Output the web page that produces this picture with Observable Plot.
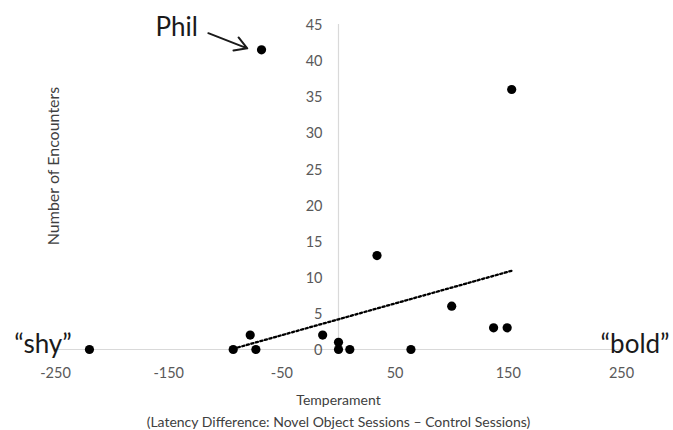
<!DOCTYPE html>
<html>
<head>
<meta charset="utf-8">
<script src="https://cdn.jsdelivr.net/npm/d3@7"></script>
<script src="https://cdn.jsdelivr.net/npm/@observablehq/plot@0.6"></script>
<style>
  html, body { margin: 0; padding: 0; background: #fff; }
</style>
</head>
<body>
<div id="chart"></div>
<script>
// Data
const temperament = [-220, -93, -78, -73, -68, -14, 0, 0, 10, 34, 64, 100, 137, 149, 153];
const encounters  = [0, 0, 2, 0, 41.5, 2, 1, 0, 0, 13, 0, 6, 3, 3, 36];
const trendX = [-93, 153];
const trendY = [0.1, 10.9];
const xTicks = [-250, -150, -50, 50, 150, 250];
const yTicks = [0, 5, 10, 15, 20, 25, 30, 35, 40, 45];

const points = temperament.map((t, i) => ({t, n: encounters[i]}));
const trend = trendX.map((t, i) => ({t, n: trendY[i]}));

const font = "Lato, 'Open Sans', sans-serif";

const chart = Plot.plot({
  width: 673,
  height: 430,
  marginLeft: 55,
  marginRight: 52,
  marginTop: 24,
  marginBottom: 81,
  style: {fontFamily: font, background: "white", overflow: "visible"},
  x: {domain: [-250, 250], axis: null},
  y: {domain: [0, 45], axis: null},
  marks: [
    Plot.ruleY([0], {x1: -250, x2: 250, stroke: "#d9d9d9", strokeWidth: 1.2}),
    Plot.ruleX([0], {y1: 0, y2: 45, stroke: "#d9d9d9", strokeWidth: 1.2}),
    Plot.text(xTicks, {x: d => d, frameAnchor: "bottom", lineAnchor: "middle", dy: 24, fill: "#595959", fontSize: 14.5}),
    Plot.text(yTicks, {x: () => 0, y: d => d, dx: -16, dy: 1, textAnchor: "end", lineAnchor: "middle", fill: "#595959", fontSize: 14.5}),
    Plot.line(trend, {x: "t", y: "n", stroke: "black", strokeWidth: 2.3, strokeDasharray: "2.2,2.5"}),
    Plot.dot(points, {x: "t", y: "n", r: 4.6, fill: "black"}),
    Plot.text(["Temperament"], {frameAnchor: "bottom", lineAnchor: "middle", textAnchor: "middle", dy: 51, fill: "#404040", fontSize: 14}),
    Plot.text(["(Latency Difference: Novel Object Sessions \u2013 Control Sessions)"], {frameAnchor: "bottom", lineAnchor: "middle", textAnchor: "middle", dy: 73, fill: "#404040", fontSize: 14}),
    Plot.text(["Number of Encounters"], {frameAnchor: "left", textAnchor: "middle", lineAnchor: "middle", dx: -2, dy: -21, rotate: -90, fill: "#404040", fontSize: 16}),
    Plot.text(["Phil"], {x: () => -143, y: () => 44.6, fill: "#1a1a1a", fontSize: 26}),
    Plot.arrow([0], {x1: () => -115, y1: () => 43.8, x2: () => -80.6, y2: () => 41.7, stroke: "#1a1a1a", strokeWidth: 2, headLength: 12}),
    Plot.text(["\u201Cshy\u201D"], {x: () => -261, y: () => 0.6, fill: "#1a1a1a", fontSize: 26}),
    Plot.text(["\u201Cbold\u201D"], {x: () => 262, y: () => 0.6, fill: "#1a1a1a", fontSize: 26})
  ]
});
document.getElementById("chart").appendChild(chart);
</script>
</body>
</html>
